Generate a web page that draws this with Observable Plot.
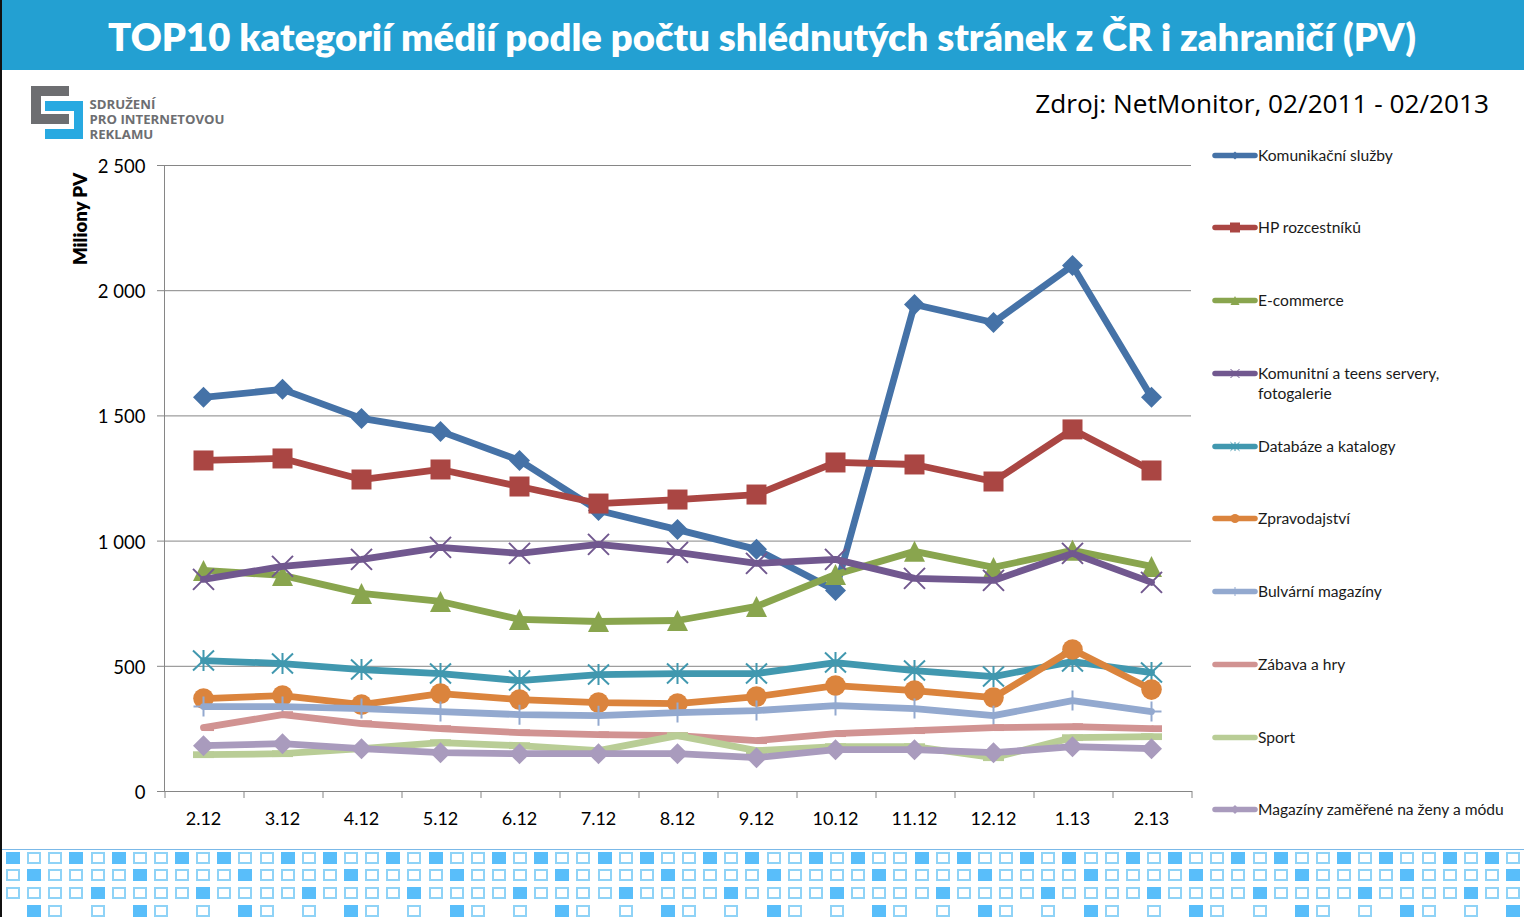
<!DOCTYPE html>
<html lang="cs">
<head>
<meta charset="utf-8">
<title>TOP10 kategorií médií</title>
<script src="https://cdn.jsdelivr.net/npm/d3@7"></script>
<script src="https://cdn.jsdelivr.net/npm/@observablehq/plot@0.6"></script>
<style>
  html, body { margin: 0; padding: 0; background: #fff; }
  #page { position: relative; width: 1524px; height: 917px; overflow: hidden; font-family: Lato, sans-serif; }
  #leftEdge { position: absolute; left: 0; top: 0; width: 1.5px; height: 917px; background: #111; z-index: 5; }
  #titleBar { position: absolute; left: 0; top: 0; width: 1524px; height: 70px; background: #23A0D2; color: #fff;
    font: 800 38.2px Lato, sans-serif; display: flex; align-items: center; justify-content: center; }
  #titleBar span { position: relative; left: 0; top: 1px; white-space: nowrap; }
  #source { position: absolute; right: 35px; top: 85px; font: 400 26.2px "Open Sans", sans-serif; color: #000; white-space: nowrap; }
  #logo { position: absolute; left: 31px; top: 86px; }
  #logoText { position: absolute; left: 89.5px; top: 97px; font: 700 13.2px/15px "Open Sans", sans-serif; color: #6D6E71; }
  #chart { position: absolute; left: 0; top: 0; }
  #yLabel { position: absolute; left: 80px; top: 219px; transform: translate(-50%, -50%) rotate(-90deg);
    font: 800 18.6px Lato, sans-serif; color: #000; white-space: nowrap; }
  #legend { position: absolute; left: 1212px; top: 0; width: 300px; }
  .entry { position: absolute; left: 0; display: flex; align-items: flex-start; }
  .entry svg { flex: none; display: block; }
  .entry div { font: 400 15.6px/20px Lato, sans-serif; color: #1a1a1a; width: 254px; margin-top: -1px; }
  #footer { position: absolute; left: 0; top: 849px; width: 1524px; height: 68px; background: #fff; border-top: 1.5px solid #7BB9E8; box-sizing: border-box; }
  .sq { position: absolute; width: 14px; height: 12px; box-sizing: border-box; }
  .sq.F { background: #59BEFA; }
  .sq.E { border: 2px solid #8FD3F7; background: #fff; }
</style>
</head>
<body>
<div id="page">
  <div id="leftEdge"></div>
  <div id="titleBar"><span>TOP10 kategorií médií podle počtu shlédnutých stránek z ČR i zahraničí (PV)</span></div>
  <svg id="logo" width="53" height="54" viewBox="0 0 53 54">
    <path fill="#6D6E71" d="M0 0H38V10H10V28H38V38H0Z"/>
    <path fill="#28A9E1" d="M14 15H52V53H14V43H43V25H14Z"/>
  </svg>
  <div id="logoText">SDRUŽENÍ<br>PRO INTERNETOVOU<br>REKLAMU</div>
  <div id="source">Zdroj: NetMonitor, 02/2011 - 02/2013</div>
  <div id="chart"></div>
  <div id="yLabel">Miliony PV</div>
  <div id="legend"></div>
  <div id="footer"></div>
</div>
<script>
const categories = ["2.12","3.12","4.12","5.12","6.12","7.12","8.12","9.12","10.12","11.12","12.12","1.13","2.13"];
const yTicks = [0, 500, 1000, 1500, 2000, 2500];

const komunikacni = [1574,1606,1490,1438,1322,1122,1046,967,803,1945,1873,2101,1574];
const rozcestniky = [1322,1330,1246,1286,1218,1150,1166,1186,1314,1306,1238,1446,1282];
const ecommerce   = [883,863,791,759,687,679,683,739,867,959,895,963,899];
const komunitni   = [847,899,927,975,951,987,955,911,927,851,843,951,835];
const databaze    = [523,511,487,471,443,467,471,471,515,483,459,519,475];
const zpravodajstvi = [371,383,347,391,367,355,351,379,423,403,375,567,407];
const bulvarni    = [339,339,331,319,307,303,315,323,343,331,303,363,319];
const zabava      = [255,307,271,251,235,227,223,203,231,243,255,259,251];
const sport       = [147,151,171,195,183,163,223,163,179,179,135,215,219];
const magaziny    = [183,191,171,155,151,151,151,135,167,167,155,179,171];

const seriesNames = ["Komunikační služby","HP rozcestníků","E-commerce","Komunitní a teens servery, fotogalerie","Databáze a katalogy","Zpravodajství","Bulvární magazíny","Zábava a hry","Sport","Magazíny zaměřené na ženy a módu"];
const seriesValues = [komunikacni,rozcestniky,ecommerce,komunitni,databaze,zpravodajstvi,bulvarni,zabava,sport,magaziny];
const seriesColors = ["#4572A7","#AA4643","#89A54E","#71588F","#4198AF","#DB843D","#93A9CF","#D19392","#B9CD96","#A99BBD"];

// Excel-style marker shapes
const R = s => Math.sqrt(s / Math.PI);
const diamond = {draw(c, s) { const r = R(s); c.moveTo(0,-r); c.lineTo(r,0); c.lineTo(0,r); c.lineTo(-r,0); c.closePath(); }};
const square = {draw(c, s) { const r = R(s); c.rect(-r,-r,2*r,2*r); }};
const triangle = {draw(c, s) { const r = R(s); c.moveTo(0,-r); c.lineTo(r,r); c.lineTo(-r,r); c.closePath(); }};
const times = {draw(c, s) { const r = R(s); c.moveTo(-r,-r); c.lineTo(r,r); c.moveTo(r,-r); c.lineTo(-r,r); }};
const star = {draw(c, s) { const r = R(s); c.moveTo(-r,-r*0.95); c.lineTo(r,r*0.95); c.moveTo(r,-r*0.95); c.lineTo(-r,r*0.95); c.moveTo(0,-r); c.lineTo(0,r); }};
const circle = {draw(c, s) { const r = R(s); c.moveTo(r,0); c.arc(0,0,r,0,2*Math.PI); }};
const plus = {draw(c, s) { const r = R(s); c.moveTo(0,-r); c.lineTo(0,r); c.moveTo(-r,0); c.lineTo(r,0); }};
const halfDash = {draw(c, s) { const r = R(s); c.rect(0,-3.4,r,6.8); }};
const fullDash = {draw(c, s) { const r = R(s); c.rect(-r,-3.4,2*r,6.8); }};

const markerShapes = [diamond,square,triangle,times,star,circle,plus,halfDash,fullDash,diamond];
const markerRadii  = [10.5,10,10.5,10.5,10.5,10.3,10,10.5,10.5,10.5];
const markerHollow = [false,false,false,true,true,false,true,false,false,false];
const legendRadii  = [4,5,4.5,4.5,4.5,4.5,4.5,0,0,4.5];

const table = seriesNames.map((name, i) => categories.map((cat, j) => ({cat, name, value: seriesValues[i][j]})));

const spaced = d3.formatLocale({thousands: "\u00a0", grouping: [3], decimal: ",", currency: ["", ""]}).format(",");

const marks = [
  Plot.gridY(yTicks, {stroke: "#868686", strokeOpacity: 1}),
  Plot.axisY(yTicks, {anchor: "left", tickSize: 0, tickPadding: 19, tickFormat: spaced, color: "#000", fontSize: 18.5, label: null, dy: 1.5}),
  Plot.axisY(yTicks, {anchor: "left", tickSize: 7, text: null, stroke: "#868686", label: null}),
  Plot.axisX({ticks: categories, anchor: "bottom", tickSize: 0, tickPadding: 21, fontSize: 18, color: "#000", label: null, dx: -1}),
  Plot.axisX({ticks: categories, anchor: "bottom", tickSize: 7, text: null, stroke: "#868686", dx: -39.5, label: null}),
  Plot.axisX({ticks: categories.slice(-1), anchor: "bottom", tickSize: 7, text: null, stroke: "#868686", dx: 39.5, label: null}),
  Plot.frame({anchor: "left", stroke: "#868686"}),
  Plot.frame({anchor: "bottom", stroke: "#868686"})
];
table.forEach((rows, i) => {
  marks.push(Plot.line(rows, {x: "cat", y: "value", dx: -1, stroke: seriesColors[i], strokeWidth: 6.8, strokeLinecap: "round", strokeLinejoin: "round"}));
  const hollow = markerHollow[i];
  marks.push(Plot.dot(rows, {x: "cat", y: "value", dx: -1, r: markerRadii[i], symbol: markerShapes[i],
    fill: hollow ? "none" : seriesColors[i], stroke: hollow ? seriesColors[i] : "none", strokeWidth: hollow ? 2 : 0}));
});

const plot = Plot.plot({
  width: 1524, height: 849,
  marginTop: 165, marginBottom: 58, marginLeft: 164, marginRight: 333,
  style: {fontFamily: "Lato, sans-serif", background: "transparent"},
  x: {type: "point", domain: categories, padding: 0.5, align: 0.5, axis: null},
  y: {domain: [0, 2500], axis: null},
  marks
});
document.getElementById("chart").append(plot);

// Legend at the right
const legendTops = [146,218,291,364,437,509,582,655,728,800];
const legend = document.getElementById("legend");
seriesNames.forEach((name, i) => {
  const e = document.createElement("div");
  e.className = "entry";
  e.style.top = legendTops[i] + "px";
  const sw = d3.create("svg").attr("width", 46).attr("height", 20);
  sw.append("line").attr("x1", 3).attr("x2", 43).attr("y1", 9.5).attr("y2", 9.5)
    .attr("stroke", seriesColors[i]).attr("stroke-width", 5.5).attr("stroke-linecap", "round");
  if (legendRadii[i] > 0) {
    const r = legendRadii[i];
    const p = d3.path();
    markerShapes[i].draw(p, Math.PI * r * r);
    const hollow = markerHollow[i];
    sw.append("path").attr("d", p.toString()).attr("transform", "translate(23,9.5)")
      .attr("fill", hollow ? "none" : seriesColors[i])
      .attr("stroke", hollow ? seriesColors[i] : "none").attr("stroke-width", hollow ? 1 : 0);
  }
  e.append(sw.node());
  const t = document.createElement("div");
  t.textContent = name;
  e.append(t);
  legend.append(e);
});

// Footer pattern of squares
const patternRows = ["FEEFE", "EFEEE", "EEEEF", "_FE_E"];
const footer = document.getElementById("footer");
patternRows.forEach((row, r) => {
  for (let col = 0; col < 72; col++) {
    const kind = row[col % row.length];
    if (kind === "_") continue;
    const s = document.createElement("div");
    s.className = "sq " + kind;
    s.style.left = (6 + col * 21.127).toFixed(1) + "px";
    s.style.top = (1.6 + r * 17.67).toFixed(1) + "px";
    footer.append(s);
  }
});
</script>
</body>
</html>
